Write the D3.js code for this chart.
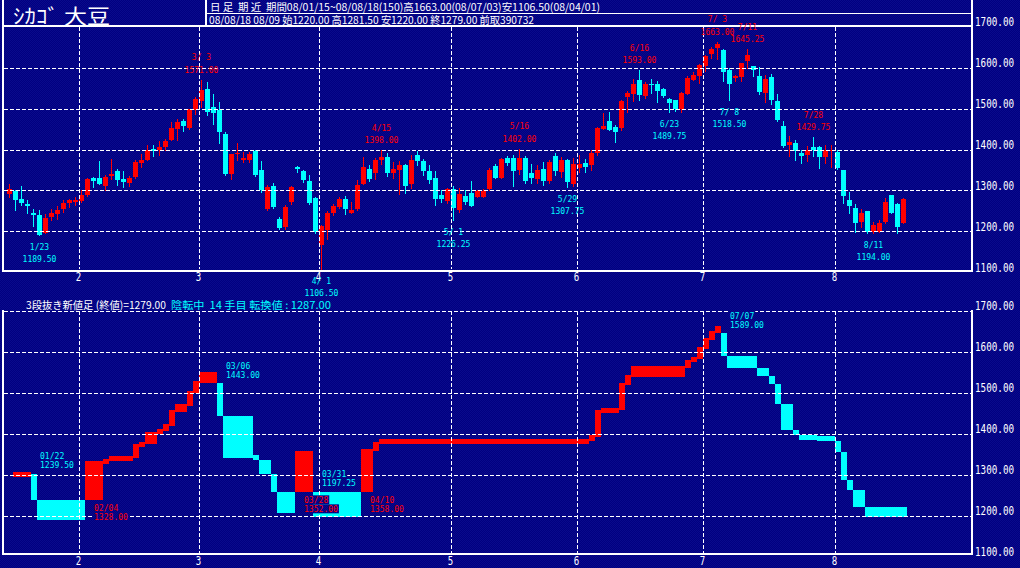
<!DOCTYPE html>
<html>
<head>
<meta charset="utf-8">
<script src="https://cdn.jsdelivr.net/npm/d3@7"></script>
<style>
  html, body { margin: 0; padding: 0; background: #000080; overflow: hidden; }
  svg { display: block; }
  text { white-space: pre; }
</style>
</head>
<body>
<svg id="chart" width="1020" height="568"></svg>
<script>
// ---- Trading calendar 2008 (month, trading days) ----
const monthDays = [
  [1, [15,16,17,18,22,23,24,25,28,29,30,31]],
  [2, [1,4,5,6,7,8,11,12,13,14,15,19,20,21,22,25,26,27,28,29]],
  [3, [3,4,5,6,7,10,11,12,13,14,17,18,19,20,24,25,26,27,28,31]],
  [4, [1,2,3,4,7,8,9,10,11,14,15,16,17,18,21,22,23,24,25,28,29,30]],
  [5, [1,2,5,6,7,8,9,12,13,14,15,16,19,20,21,22,23,27,28,29,30]],
  [6, [2,3,4,5,6,9,10,11,12,13,16,17,18,19,20,23,24,25,26,27,30]],
  [7, [1,2,3,7,8,9,10,11,14,15,16,17,18,21,22,23,24,25,28,29,30,31]],
  [8, [1,4,5,6,7,8,11,12,13,14,15,18]]
];

// ---- Daily OHLC (Chicago soybeans, nearby) ----
const open = [
  1292,1298.5,1280,1266,1244,1240,1197,1235,1241.5,1253.5,1269,1273,
  1274,1288,1330,1330,1312,1335,1346.5,1327,1318,1332.5,1367.5,1373.5,1402,1398,1406,1422,1449,1469.5,1452,1495.5,
  1518,1548.5,1503,1495.5,1437,1339,1388,1376.5,1373.5,1395.5,1351,1253.5,1310,1229,1210,1271.5,1358,1346.5,1322,1280.5,
  1166,1202.5,1244,1259.5,1278,1244.75,1253.75,1315.5,1353,1342.5,1373.5,1381.5,1342.5,1349,1361,1316.5,1385.5,1372,1347,1331,1288,1274,
  1304,1251.25,1285.5,1293.5,1283.75,1285,1302.5,1359.5,1331,1379,1379,1349,1379,1342.5,1327,1351.5,1322,1384,1345,1373.5,1316.5,
  1354.5,1368,1362,1391,1451,1468.75,1455,1452,1528,1536.5,1569,1530.5,1561,1561,1547,1522.5,1520,1498,1536.5,1571,1579.5,
  1603,1634,1649,1642,1595,1574.5,1577,1615,1603,1578.75,1538,1577,1518,1456.5,1410,1416.75,1391.25,1385.75,1406,1406,1381.5,1398,
  1395,1349,1276,1257,1222,1249,1198,1198,1222,1290,1266,1220
];
const high = [
  1315,1302,1312,1276,1255,1251,1243,1255.5,1261,1275.5,1280,1284,
  1300,1331,1333,1373,1337,1376,1353,1346.5,1335,1373.5,1388,1410,1410,1420,1426.5,1467,1475,1475,1500,1528,
  1571,1564.75,1536,1516,1443,1389,1417,1394,1395,1398,1373,1313,1318,1235,1265,1312,1360,1350,1337,1285,
  1215,1249,1266,1283,1287,1272,1324.5,1381,1362,1380,1398,1391,1369,1371,1365,1386,1396,1378,1361,1347,1300,1306,
  1312,1305,1300,1322,1300,1303,1355,1365,1380,1384,1386,1402,1383,1364,1361,1369,1373.5,1391,1381.5,1378,1380,
  1386,1376,1399.5,1455,1488,1491.5,1460,1520,1544,1573,1593,1566,1572,1567,1551,1527,1522,1541,1580,1590,1610,
  1631,1651,1663,1645,1598,1582.5,1612,1645.25,1605,1601,1583,1585,1535,1468.75,1432,1422,1400,1407.75,1429.75,1409,1411.75,1410,
  1400,1349,1297,1267,1255,1249,1222.75,1228,1282,1290,1269,1281.5
];
const low = [
  1282,1250,1262,1243,1213,1189.5,1194,1227,1228.5,1247,1258,1262,
  1271.5,1286,1308,1314,1300,1327,1312.5,1306,1310.5,1329.5,1357,1373.5,1383,1386,1398,1422,1422,1443,1450,1486,
  1503.5,1483.5,1460.5,1414,1337,1327,1373,1369,1368,1335,1295,1251,1255,1205,1205,1265,1344,1320,1265,1195,
  1106.5,1180,1238,1255,1240,1244,1250,1314,1322,1326,1364,1334,1329,1290,1292,1304,1361,1337,1316.5,1263.5,1271.5,1267.5,
  1226.25,1245,1266,1260,1283.75,1283,1300,1330,1328.5,1362,1310.5,1340,1318,1318,1316.5,1312.5,1316.5,1337,1332.5,1307.75,1310,
  1345,1345,1349,1385,1448,1447,1418,1447,1491.5,1517.5,1520,1525,1537,1514,1526,1489.75,1493,1490,1534,1569,1561,
  1590,1622,1619,1565,1518.5,1565,1565,1597,1578,1535,1516,1510,1468,1405,1384,1372,1367,1371,1383,1353,1365,1357,
  1352,1268,1243,1198,1210,1196,1194,1197,1220,1244,1194.5,1220
];
const close = [
  1302.5,1275.5,1269,1263,1239.5,1190.5,1232.5,1245,1253,1268.5,1276.5,1275.5,
  1288,1328,1322,1316.5,1333,1341,1324.5,1320.5,1330,1370,1375,1399,1396,1407,1420,1453,1467,1456.5,1499,1523.5,
  1545.5,1491.5,1489,1443,1341,1388,1392,1379,1388,1337,1301,1308,1258.5,1207.25,1259.5,1308.25,1352,1324.5,1268.5,1197.25,
  1212,1244.5,1262,1278,1253.75,1251.25,1312.5,1358,1328.75,1375,1382,1342.5,1353,1361,1312,1375,1371,1347,1324.5,1280,1278,1302.5,
  1257,1292,1271,1262.75,1298.5,1298,1349,1331,1376,1368,1346.5,1379,1322,1330,1350.75,1322,1369,1346.5,1373.5,1320.5,1363.75,
  1365.5,1357,1392,1452,1457,1448.5,1442.5,1518.5,1538,1560.5,1532,1561,1556.75,1542,1530.5,1514.5,1498,1538,1575,1582,1606,
  1628.5,1645,1658,1589,1561,1578.5,1611,1630,1595,1541.5,1573,1520.5,1471.75,1409,1418,1396.75,1384.5,1398,1399.5,1381,1399.5,1400,
  1356,1287,1262,1221.5,1245,1198,1214.5,1221,1271,1245,1210,1279
];

// High / low annotations on the daily chart (day indices)
const highMarks = [32, 62, 85, 105, 118, 123, 134];
const lowMarks  = [5, 52, 74, 93, 110, 120, 144];

// ---- Three-line break (3段抜き新値足) ----
const baseDay = 1;   // opening reference line drawn from this day at close[0]
const brickDay = [4,5,13,16,17,21,22,23,25,26,27,28,30,31,32,35,36,41,42,44,45,48,51,59,61,62,
  97,98,99,102,103,104,113,114,115,116,117,118,119,120,125,127,128,129,131,132,135,138,139,140,141,143];
const reversalDates = ["01/22","02/04","03/06","03/28","03/31","04/10","07/07"];

// ---- Axis ticks ----
const priceTicks = [1700,1600,1500,1400,1300,1200,1100];
const monthStartDays = [12,32,52,74,95,116,138];
const monthNames = ["2","3","4","5","6","7","8"];

// ---- Header texts ----
const titleText = "ｼｶｺﾞ 大豆";
const headerLine1 = "日 足  期 近  期間08/01/15~08/08/18(150)高1663.00(08/07/03)安1106.50(08/04/01)";
const headerLine2 = "08/08/18 08/09 始1220.00 高1281.50 安1220.00 終1279.00 前取390732";
const breakTitle = "3段抜き新値足 (終値)=1279.00";
const breakStatus = "陰転中  14 手目 転換値 : 1287.00";

// ---------------------------------------------------------------
const W = 1020, H = 568, N = close.length;
const RED = "#ff0000", CYAN = "#00ffff", WHITE = "#ffffff";
const MONO = "'DejaVu Sans Mono', 'Liberation Mono', monospace";
const CJK = "'Noto Sans CJK JP', 'Noto Sans', sans-serif";
const MONO_ADV = 0.602;           // advance width of the mono font, in em

const dates = [];
monthDays.forEach(([m, ds]) => ds.forEach(d => dates.push({m, d})));
const mdLabel = i => `${dates[i].m}/${String(dates[i].d).padStart(2, " ")}`;
const fmt2 = d3.format(".2f");

const svg = d3.select("#chart");
const defs = svg.append("defs");
const pat = defs.append("pattern").attr("id", "bg")
  .attr("width", 2).attr("height", 2).attr("patternUnits", "userSpaceOnUse");
pat.append("rect").attr("width", 2).attr("height", 2).attr("fill", "#000080");
pat.append("rect").attr("width", 1).attr("height", 1).attr("fill", "#0a0a8c");
pat.append("rect").attr("x", 1).attr("y", 1).attr("width", 1).attr("height", 1).attr("fill", "#0a0a8c");
svg.append("rect").attr("width", W).attr("height", H).attr("fill", "url(#bg)");

// scales
const x = d3.scaleLinear().domain([0, N]).range([6, 6 + 6 * N]);
const yTop = d3.scaleLinear().domain([1100, 1700]).range([272.3, 26.7]);
const yBot = d3.scaleLinear().domain([1100, 1700]).range([556.7, 310.7]);

// condensed mono text: squeezed horizontally to a fixed advance per character
function label(g, str, px, py, color, anchor, size, adv) {
  const sx = adv / (MONO_ADV * size);
  return g.append("text")
    .attr("transform", `translate(${px},${py}) scale(${sx},1)`)
    .attr("fill", color)
    .attr("text-anchor", anchor)
    .attr("font-family", MONO)
    .attr("font-size", size)
    .text(str);
}

// ---- Candles ----
const gCandle = svg.append("g").attr("shape-rendering", "crispEdges");
const idx = d3.range(N);
gCandle.selectAll("line.wick").data(idx).join("line")
  .attr("x1", i => x(i) + 3.5).attr("x2", i => x(i) + 3.5)
  .attr("y1", i => yTop(high[i])).attr("y2", i => yTop(low[i]) + 0.5)
  .attr("stroke", i => close[i] >= open[i] ? RED : CYAN).attr("stroke-width", 1);
gCandle.selectAll("rect.body").data(idx).join("rect")
  .attr("x", i => x(i) + 1).attr("width", 5)
  .attr("y", i => yTop(Math.max(open[i], close[i])))
  .attr("height", i => Math.max(1.5, yTop(Math.min(open[i], close[i])) - yTop(Math.max(open[i], close[i]))))
  .attr("fill", i => close[i] >= open[i] ? RED : CYAN);

// ---- Three-line break bricks ----
const bricks = [{start: baseDay, from: close[0], to: close[0], up: true, rev: false}];
brickDay.forEach(d => {
  const prev = bricks[bricks.length - 1];
  const to = close[d];
  const up = to > prev.to;
  const from = up === prev.up ? prev.to : prev.from;
  bricks.push({start: d, from, to, up, rev: up !== prev.up});
});
bricks.forEach((b, k) => {
  b.end = k + 1 < bricks.length ? bricks[k + 1].start : N;
  b.x0 = x(b.start) + 1;
  b.x1 = x(b.end) + 1;
  if (b.up) {
    b.top = yBot(b.to) - 2;
    b.bottom = Math.max(yBot(b.from), b.top + 5);
  } else {
    b.bottom = yBot(b.to);
    b.top = Math.min(yBot(b.from), b.bottom - 5);
  }
});
svg.append("g").attr("shape-rendering", "crispEdges")
  .selectAll("rect").data(bricks).join("rect")
  .attr("x", b => b.x0).attr("width", b => b.x1 - b.x0)
  .attr("y", b => b.top).attr("height", b => b.bottom - b.top)
  .attr("fill", b => b.up ? RED : CYAN);

// ---- Grid lines ----
const gGrid = svg.append("g").attr("stroke", WHITE).attr("stroke-width", 1)
  .attr("stroke-dasharray", "4,2").attr("shape-rendering", "crispEdges");
[1600, 1500, 1400, 1300, 1200].forEach(p => {
  gGrid.append("line").attr("x1", 4).attr("x2", 971)
    .attr("y1", Math.round(yTop(p)) + 0.5).attr("y2", Math.round(yTop(p)) + 0.5);
});
[1700, 1600, 1500, 1400, 1300, 1200].forEach(p => {
  gGrid.append("line").attr("x1", 4).attr("x2", 971)
    .attr("y1", Math.round(yBot(p)) + 0.5).attr("y2", Math.round(yBot(p)) + 0.5);
});
monthStartDays.forEach(i => {
  const gx = Math.round(x(i)) + 1.5;
  gGrid.append("line").attr("x1", gx).attr("x2", gx).attr("y1", 27).attr("y2", 269);
  gGrid.append("line").attr("x1", gx).attr("x2", gx).attr("y1", 311).attr("y2", 553);
});

// ---- Frames ----
const gFrame = svg.append("g").attr("stroke", WHITE).attr("shape-rendering", "crispEdges");
// header + top panel
gFrame.append("line").attr("x1", 3).attr("x2", 3).attr("y1", 0).attr("y2", 272).attr("stroke-width", 2);
gFrame.append("line").attr("x1", 972).attr("x2", 972).attr("y1", 0).attr("y2", 272).attr("stroke-width", 2);
gFrame.append("line").attr("x1", 2).attr("x2", 973).attr("y1", 26).attr("y2", 26).attr("stroke-width", 2);
gFrame.append("line").attr("x1", 2).attr("x2", 973).attr("y1", 271).attr("y2", 271).attr("stroke-width", 2);
gFrame.append("line").attr("x1", 206).attr("x2", 206).attr("y1", 0).attr("y2", 26).attr("stroke-width", 1.5);
gFrame.append("line").attr("x1", 206).attr("x2", 972).attr("y1", 13.5).attr("y2", 13.5).attr("stroke-width", 1);
// bottom panel
gFrame.append("line").attr("x1", 3).attr("x2", 3).attr("y1", 310).attr("y2", 555).attr("stroke-width", 2);
gFrame.append("line").attr("x1", 972).attr("x2", 972).attr("y1", 310).attr("y2", 555).attr("stroke-width", 2);
gFrame.append("line").attr("x1", 2).attr("x2", 973).attr("y1", 554).attr("y2", 554).attr("stroke-width", 2);

// ---- Price axes (right side) ----
function priceAxis(scale) {
  const size = 11.5, sx = 5.6 / (MONO_ADV * size);
  const g = svg.append("g").attr("transform", "translate(975,0)")
    .call(d3.axisRight(scale).tickValues(priceTicks).tickFormat(fmt2).tickSize(0).tickPadding(0));
  g.select(".domain").remove();
  g.selectAll("text")
    .attr("x", 0).attr("dy", null).attr("y", 0)
    .attr("transform", `translate(0,-1.3) scale(${sx},1)`)
    .attr("fill", WHITE).attr("font-family", MONO).attr("font-size", size)
    .attr("text-anchor", "start");
}
priceAxis(yTop);
priceAxis(yBot);

// ---- Month axes ----
function monthAxis(yPos) {
  const size = 11.5, sx = 5.5 / (MONO_ADV * size);
  const g = svg.append("g").attr("transform", `translate(0,${yPos})`)
    .call(d3.axisBottom(x).tickValues(monthStartDays).tickFormat((d, k) => monthNames[k]).tickSize(0).tickPadding(0));
  g.select(".domain").remove();
  g.selectAll("text").attr("dy", null).attr("y", 0)
    .attr("transform", `scale(${sx},1)`)
    .attr("fill", WHITE).attr("font-family", MONO).attr("font-size", size);
}
monthAxis(280.7);
monthAxis(565.2);

// ---- High / low labels ----
const gMarks = svg.append("g");
highMarks.forEach(i => {
  const cx = x(i) + 3.5, yy = yTop(high[i]);
  label(gMarks, mdLabel(i), cx, yy - 19.4, RED, "middle", 9.5, 4.85);
  label(gMarks, fmt2(high[i]), cx, yy - 7, RED, "middle", 9.5, 4.85);
});
lowMarks.forEach(i => {
  const cx = x(i) + 3.5, yy = yTop(low[i]);
  label(gMarks, mdLabel(i), cx, yy + 14.5, CYAN, "middle", 9.5, 4.85);
  label(gMarks, fmt2(low[i]), cx, yy + 26.5, CYAN, "middle", 9.5, 4.85);
});

// ---- Reversal labels on the break chart ----
const gRev = svg.append("g");
bricks.filter(b => b.rev).forEach((b, k) => {
  const lx = b.x0 + 9;
  const color = b.up ? RED : CYAN;
  const y1 = b.up ? b.bottom + 11.6 : b.top - 14.4;
  const y2 = b.up ? b.bottom + 20.6 : b.top - 5.4;
  const t1 = reversalDates[k], t2 = fmt2(b.to);
  gRev.append("rect").attr("x", lx - 1).attr("y", y1 - 8).attr("width", 4.85 * t1.length + 2).attr("height", 9).attr("fill", "url(#bg)");
  gRev.append("rect").attr("x", lx - 1).attr("y", y2 - 8).attr("width", 4.85 * t2.length + 2).attr("height", 9).attr("fill", "url(#bg)");
  label(gRev, t1, lx, y1, color, "start", 9, 4.85);
  label(gRev, t2, lx, y2, color, "start", 9, 4.85);
});

// ---- Header texts ----
function cjkText(str, px, py, color, size, len) {
  svg.append("text").attr("x", px).attr("y", py)
    .attr("fill", color).attr("font-family", CJK).attr("font-size", size)
    .attr("textLength", len).attr("lengthAdjust", "spacingAndGlyphs")
    .text(str);
}
cjkText(titleText, 13, 23.8, WHITE, 20.5, 97);
cjkText(headerLine1, 210, 10.5, WHITE, 10.5, 390);
cjkText(headerLine2, 209, 24, WHITE, 10.5, 325);
cjkText(breakTitle, 26, 308.5, WHITE, 10.5, 140);
cjkText(breakStatus, 171, 308.5, CYAN, 10.5, 160);
</script>
</body>
</html>
